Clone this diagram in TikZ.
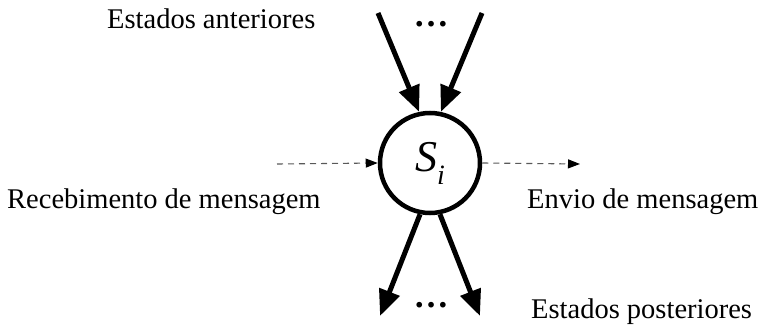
\documentclass[tikz,border=0pt]{standalone}
\usepackage{fontspec}
\setmainfont{Liberation Serif}
\usetikzlibrary{arrows.meta}
\tikzset{
  lbl/.style={font=\fontsize{28.5}{30}\selectfont, inner sep=0pt, anchor=base west},
  dotsl/.style={font=\bfseries\fontsize{35}{36}\selectfont, inner sep=0pt, anchor=base},
  thick arr/.style={line width=5pt, -{Triangle[length=26pt,width=21pt]}},
  msg arr/.style={line width=1.1pt, black!65, dash pattern=on 6pt off 5pt, -{Triangle[length=12pt,width=9pt,black]}},
  state/.style={circle, draw, line width=4.5pt, minimum size=100pt, inner sep=0pt,
    font=\fontsize{44}{46}\selectfont}
}
\begin{document}
\begin{tikzpicture}[x=1pt,y=-1pt]
\useasboundingbox (0,0) rectangle (758,331);
\node[state] (s) at (430,163) {\textit{S}\raisebox{-13pt}{\fontsize{28}{30}\selectfont\textit{i}}};
\coordinate (t1) at (378,13);
\coordinate (t2) at (482,13);
\coordinate (b1) at (380,316);
\coordinate (b2) at (480,316);
\coordinate (ml) at (277,164);
\coordinate (mr) at (580,164);
\draw[thick arr] (t1) -- (s.102);
\draw[thick arr] (t2) -- (s.78);
\draw[thick arr] (s.259) -- (b1);
\draw[thick arr] (s.281) -- (b2);
\draw[msg arr] (ml) -- (s.west);
\draw[msg arr] (s.east) -- (mr);
\node[dotsl] (d1) at (431,27) {…};
\node[dotsl] (d2) at (431,308) {…};
\node[lbl] (ea) at (107,29) {Estados anteriores};
\node[lbl] (rm) at (7,209) {Recebimento de mensagem};
\node[lbl] (em) at (527,209) {Envio de mensagem};
\node[lbl] (ep) at (531,319) {Estados posteriores};
\end{tikzpicture}
\end{document}
